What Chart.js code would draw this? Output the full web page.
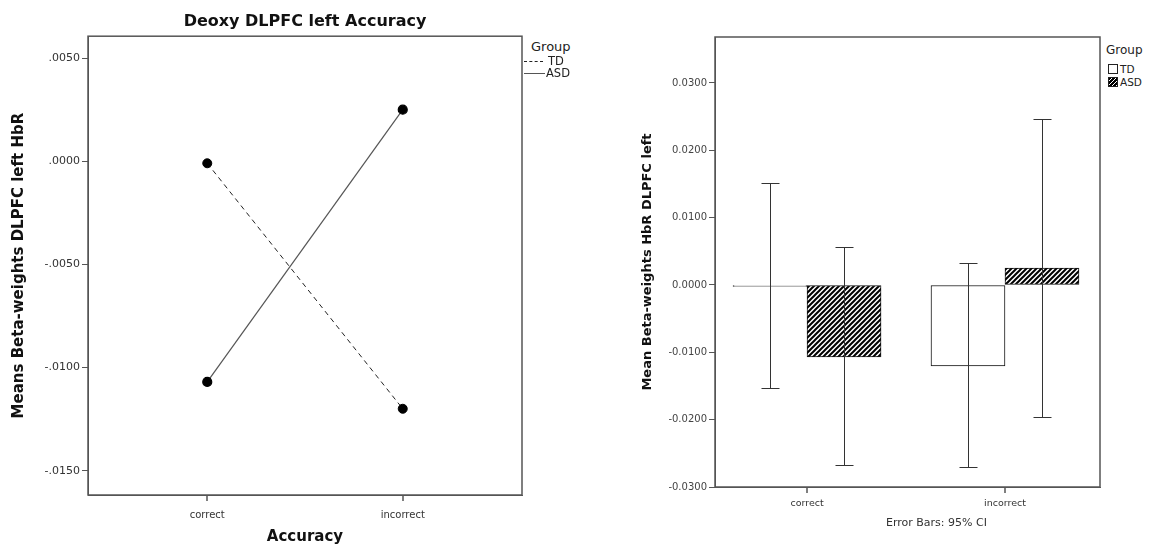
<!DOCTYPE html>
<html>
<head>
<meta charset="utf-8">
<script src="https://cdn.jsdelivr.net/npm/chart.js@4.4.1/dist/chart.umd.min.js"></script>
<style>
  body { margin: 0; background: #fff; font-family: "DejaVu Sans", sans-serif; }
  #page { position: relative; width: 1153px; height: 548px; overflow: hidden; }
  .box { position: absolute; }
  .legend { position: absolute; color: #222; white-space: nowrap; }
  .legend .row { position: absolute; display: flex; align-items: center; }
  .dash { display: inline-block; width: 19px; height: 0; border-top: 1px dashed #222; margin-right: 5px; }
  .solid { display: inline-block; width: 21px; height: 0; border-top: 1px solid #555; margin-right: 1px; }
  .sq { display: inline-block; width: 8px; height: 8px; border: 1px solid #222; margin-right: 2px; background: #fff; }
  .sq.hatch { background: repeating-linear-gradient(135deg, #000 0 1.6px, #fff 1.6px 2.8px); }
</style>
</head>
<body>
<div id="page">
  <div class="box" style="left:0;top:0;width:530px;height:548px;"><canvas id="lineChart"></canvas></div>
  <div class="box" style="left:600px;top:0;width:503px;height:548px;"><canvas id="barChart"></canvas></div>

  <div class="legend" style="left:531px;top:0;">
    <div class="row" style="top:39px;font-size:13px;">Group</div>
    <div class="row" style="top:54px;left:-7px;font-size:11.5px;"><span class="dash"></span>TD</div>
    <div class="row" style="top:66px;left:-7px;font-size:11.5px;"><span class="solid"></span>ASD</div>
  </div>

  <div class="legend" style="left:1106px;top:0;">
    <div class="row" style="top:43px;font-size:12px;">Group</div>
    <div class="row" style="top:63px;left:2px;font-size:10.5px;"><span class="sq"></span>TD</div>
    <div class="row" style="top:76px;left:2px;font-size:10.5px;"><span class="sq hatch"></span>ASD</div>
  </div>

  <div class="legend" style="left:886px;top:516px;font-size:11px;color:#333;">Error Bars: 95% CI</div>
</div>

<script>
// categories and groups
const categories = ['correct', 'incorrect'];
const groups = ['TD', 'ASD'];

// left chart: means per accuracy category
const lineTD = [-0.0001, -0.0120];
const lineASD = [-0.0107, 0.0025];
const leftYTicks = [0.005, 0, -0.005, -0.010, -0.015];

// right chart: bar means and 95% CI
const barTD = [-0.0002, -0.0120];
const barASD = [-0.0107, 0.0025];
const ciTDLow = [-0.0153, -0.0270];
const ciTDHigh = [0.0151, 0.0033];
const ciASDLow = [-0.0268, -0.0196];
const ciASDHigh = [0.0057, 0.0246];
const rightYTicks = [0.03, 0.02, 0.01, 0, -0.01, -0.02, -0.03];

const FONT = '"DejaVu Sans", sans-serif';
const frameColor = '#555';

function fmtLeft(v) {
  if (Math.abs(v) < 1e-12) return '.0000';
  const s = Math.abs(v).toFixed(4).replace(/^0/, '');
  return (v < 0 ? '-' : '') + s;
}
function fmtRight(v) {
  if (Math.abs(v) < 1e-12) return '0.0000';
  return (v < 0 ? '-' : '') + Math.abs(v).toFixed(4);
}

// draws the box around the plot area, plus the category tick marks
const framePlugin = {
  id: 'frame',
  afterDraw(chart) {
    const { ctx, chartArea: a } = chart;
    const xScale = chart.scales.x;
    ctx.save();
    ctx.strokeStyle = frameColor;
    ctx.lineWidth = 1.5;
    ctx.strokeRect(a.left, a.top, a.right - a.left, a.bottom - a.top);
    ctx.beginPath();
    categories.forEach((c, i) => {
      const x = Math.round(xScale.getPixelForValue(i));
      ctx.moveTo(x, a.bottom);
      ctx.lineTo(x, a.bottom + 6);
    });
    ctx.stroke();
    ctx.restore();
  }
};

// line chart
new Chart(document.getElementById('lineChart'), {
  type: 'line',
  data: {
    datasets: [
      {
        label: groups[0],
        data: lineTD.map((y, i) => ({ x: i, y })),
        borderColor: '#222',
        borderWidth: 1,
        borderDash: [5, 4],
        pointRadius: 4.5,
        pointBackgroundColor: '#000',
        pointBorderColor: '#000'
      },
      {
        label: groups[1],
        data: lineASD.map((y, i) => ({ x: i, y })),
        borderColor: '#555',
        borderWidth: 1.2,
        pointRadius: 4.5,
        pointBackgroundColor: '#000',
        pointBorderColor: '#000'
      }
    ]
  },
  options: {
    responsive: true,
    maintainAspectRatio: false,
    animation: false,
    layout: { padding: { top: 0, right: 8, left: 0, bottom: 0 } },
    plugins: {
      legend: { display: false },
      tooltip: { enabled: false },
      title: {
        display: true,
        fullSize: false,
        text: 'Deoxy DLPFC left Accuracy',
        color: '#111',
        font: { family: FONT, size: 16, weight: 'bold' },
        padding: { top: 12, bottom: 5 }
      }
    },
    scales: {
      x: {
        type: 'linear',
        min: -0.61,
        max: 1.61,
        afterBuildTicks: (axis) => { axis.ticks = categories.map((c, i) => ({ value: i })); },
        afterFit: (axis) => { axis.height = 53; },
        grid: { display: false },
        border: { display: true, color: frameColor },
        ticks: {
          color: '#333',
          font: { family: FONT, size: 10 },
          padding: 6,
          callback: (v) => categories[v]
        },
        title: {
          display: true,
          text: 'Accuracy',
          color: '#111',
          font: { family: FONT, size: 15, weight: 'bold' },
          padding: { top: 4, bottom: 2 }
        }
      },
      y: {
        min: -0.01618,
        max: 0.00606,
        afterBuildTicks: (axis) => { axis.ticks = leftYTicks.map(v => ({ value: v })); },
        afterFit: (axis) => { axis.width = 88; },
        grid: { display: true, drawOnChartArea: false, drawTicks: true, tickLength: 6, color: frameColor },
        border: { display: true, color: frameColor },
        ticks: {
          color: '#333',
          font: { family: FONT, size: 11 },
          padding: 2,
          callback: (v) => fmtLeft(v)
        },
        title: {
          display: true,
          text: 'Means Beta-weights DLPFC left HbR',
          color: '#111',
          font: { family: FONT, size: 15, weight: 'bold' },
          padding: { top: 10, bottom: 0 }
        }
      }
    }
  },
  plugins: [framePlugin]
});

// hatch pattern for ASD bars
function makeHatch() {
  const s = 5;
  const c = document.createElement('canvas');
  c.width = s; c.height = s;
  const g = c.getContext('2d');
  g.fillStyle = '#fff';
  g.fillRect(0, 0, s, s);
  g.strokeStyle = '#000';
  g.lineWidth = 2;
  g.beginPath();
  g.moveTo(-1, s + 1); g.lineTo(s + 1, -1);
  g.moveTo(-1, 1); g.lineTo(1, -1);
  g.moveTo(s - 1, s + 1); g.lineTo(s + 1, s - 1);
  g.stroke();
  return g.createPattern(c, 'repeat');
}

const ciLow = [ciTDLow, ciASDLow];
const ciHigh = [ciTDHigh, ciASDHigh];

// draws 95% CI error bars on the bars
const errorBarPlugin = {
  id: 'errorBars',
  afterDatasetsDraw(chart) {
    const { ctx } = chart;
    const yScale = chart.scales.y;
    ctx.save();
    ctx.strokeStyle = '#333';
    ctx.lineWidth = 1;
    chart.data.datasets.forEach((ds, di) => {
      const meta = chart.getDatasetMeta(di);
      meta.data.forEach((bar, i) => {
        const x = Math.round(bar.x) + 0.5;
        const yHi = Math.round(yScale.getPixelForValue(ciHigh[di][i])) + 0.5;
        const yLo = Math.round(yScale.getPixelForValue(ciLow[di][i])) + 0.5;
        ctx.beginPath();
        ctx.moveTo(x, yHi); ctx.lineTo(x, yLo);
        ctx.moveTo(x - 9, yHi); ctx.lineTo(x + 9, yHi);
        ctx.moveTo(x - 9, yLo); ctx.lineTo(x + 9, yLo);
        ctx.stroke();
      });
    });
    ctx.restore();
  }
};

// bar chart
new Chart(document.getElementById('barChart'), {
  type: 'bar',
  data: {
    datasets: [
      {
        label: groups[0],
        data: barTD.map((y, i) => ({ x: i, y })),
        backgroundColor: '#fff',
        borderColor: '#111',
        borderWidth: 1,
        borderSkipped: false,
        barThickness: 74
      },
      {
        label: groups[1],
        data: barASD.map((y, i) => ({ x: i, y })),
        backgroundColor: makeHatch(),
        borderColor: '#111',
        borderWidth: 1,
        borderSkipped: false,
        barThickness: 74
      }
    ]
  },
  options: {
    responsive: true,
    maintainAspectRatio: false,
    animation: false,
    layout: { padding: { top: 37, right: 3, left: 0, bottom: 0 } },
    plugins: {
      legend: { display: false },
      tooltip: { enabled: false }
    },
    scales: {
      x: {
        type: 'linear',
        offset: false,
        min: -0.465,
        max: 1.48,
        afterBuildTicks: (axis) => { axis.ticks = categories.map((c, i) => ({ value: i })); },
        afterFit: (axis) => { axis.height = 61; },
        grid: { display: false },
        border: { display: true, color: frameColor },
        ticks: {
          color: '#333',
          font: { family: FONT, size: 9.5 },
          padding: 3,
          callback: (v) => categories[v]
        }
      },
      y: {
        min: -0.03,
        max: 0.03683,
        afterBuildTicks: (axis) => { axis.ticks = rightYTicks.map(v => ({ value: v })); },
        afterFit: (axis) => { axis.width = 115; },
        grid: { display: true, drawOnChartArea: false, drawTicks: true, tickLength: 6, color: frameColor },
        border: { display: true, color: frameColor },
        ticks: {
          color: '#444',
          font: { family: FONT, size: 10 },
          padding: 2,
          callback: (v) => fmtRight(v)
        },
        title: {
          display: true,
          text: 'Mean Beta-weights HbR DLPFC left',
          color: '#111',
          font: { family: FONT, size: 13, weight: 'bold' },
          padding: { top: 40, bottom: 0 }
        }
      }
    }
  },
  plugins: [framePlugin, errorBarPlugin]
});
</script>
</body>
</html>
